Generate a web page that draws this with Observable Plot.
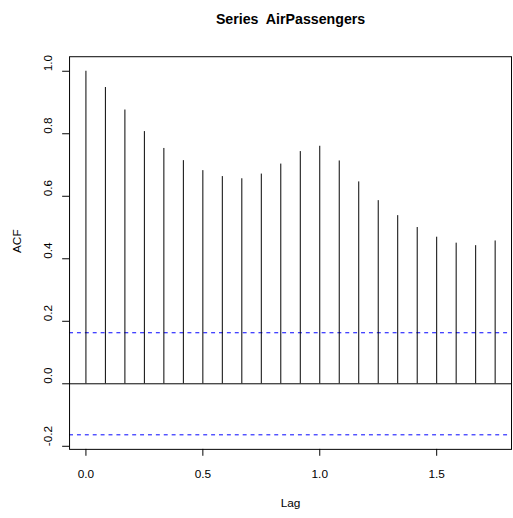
<!DOCTYPE html>
<html><head><meta charset="utf-8">
<script src="https://cdn.jsdelivr.net/npm/d3@7"></script>
<script src="https://cdn.jsdelivr.net/npm/@observablehq/plot@0.6"></script>
<style>
html,body{margin:0;padding:0;background:#fff;overflow:hidden;}
#chart{width:513px;height:518px;overflow:hidden;}
#chart svg text{white-space:pre;}
</style></head><body><div id="chart"></div>
<script>
const lags = [0, 0.0833, 0.1667, 0.25, 0.3333, 0.4167, 0.5, 0.5833, 0.6667, 0.75, 0.8333, 0.9167,
              1, 1.0833, 1.1667, 1.25, 1.3333, 1.4167, 1.5, 1.5833, 1.6667, 1.75];
const acfValues = [1.000, 0.948, 0.876, 0.807, 0.753, 0.714, 0.682, 0.663, 0.656, 0.671, 0.703, 0.743,
                   0.760, 0.713, 0.646, 0.586, 0.538, 0.500, 0.469, 0.450, 0.442, 0.457];
const ciBound = 0.1633;
const xTicks = [0, 0.5, 1, 1.5];
const yTicks = [-0.2, 0, 0.2, 0.4, 0.6, 0.8, 1.0];
const title = "Series  AirPassengers";
const xLabel = "Lag";
const yLabel = "ACF";

const data = lags.map((lag, i) => ({lag, acf: acfValues[i]}));
const font = "'Liberation Sans', Arial, Helvetica, sans-serif";

const plot = Plot.plot({
  width: 520, height: 518,
  marginLeft: 70, marginRight: 2, marginTop: 57, marginBottom: 63,
  style: {fontFamily: font, fontSize: "12px", color: "black", background: "white", overflow: "visible"},
  x: {domain: [-0.07, 1.82]},
  y: {domain: [-0.2098, 1.0465]},
  marks: [
    Plot.ruleY([ciBound, -ciBound], {stroke: "#0000ff", strokeDasharray: "4,4", strokeWidth: 1}),
    Plot.ruleY([0], {stroke: "black", strokeWidth: 1}),
    Plot.ruleX(data, {x: "lag", y1: 0, y2: "acf", stroke: "black", strokeWidth: 1}),
    Plot.frame({stroke: "black", strokeWidth: 1}),
    Plot.axisX({ticks: xTicks, tickSize: 7, fill: "none", label: null, stroke: "black"}),
    Plot.axisY({ticks: yTicks, tickSize: 7, fill: "none", label: null, stroke: "black"}),
    Plot.text(xTicks, {x: d => d, frameAnchor: "bottom", dy: 25, text: d => d.toFixed(1), lineAnchor: "middle", fontSize: 12, fill: "black"}),
    Plot.text(yTicks, {y: d => d, frameAnchor: "left", dx: -22, rotate: -90, text: d => d.toFixed(1), lineAnchor: "middle", fontSize: 12, fill: "black"}),
    Plot.text([xLabel], {frameAnchor: "bottom", dy: 55, text: d => d, lineAnchor: "middle", fontSize: 12, fill: "black"}),
    Plot.text([yLabel], {frameAnchor: "left", dx: -53, rotate: -90, text: d => d, lineAnchor: "middle", fontSize: 12, fill: "black"}),
    Plot.text([title], {frameAnchor: "top", dy: -38, text: d => d, lineAnchor: "middle", fontSize: 14.4, fontWeight: "bold", fill: "black"})
  ]
});
document.getElementById("chart").appendChild(plot);
</script>
</body></html>
